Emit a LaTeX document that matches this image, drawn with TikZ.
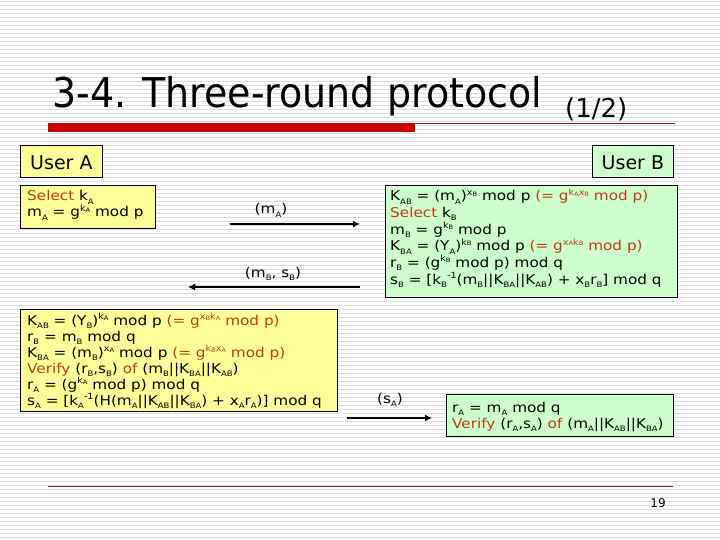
\documentclass[tikz,border=0pt]{standalone}
\usepackage{fontspec}
\usepackage{graphicx}
\setmainfont{DejaVu Sans}
\usetikzlibrary{arrows.meta}
\definecolor{yfill}{HTML}{FFFF99}
\definecolor{gfill}{HTML}{CCFFCC}
\definecolor{rtxt}{HTML}{C03A10}
\definecolor{stripe}{HTML}{DCDCDC}
\definecolor{barred}{HTML}{CC0000}
\definecolor{thinred}{HTML}{7A2030}
\newcommand\sbs[1]{\raisebox{-0.45ex}{\fontsize{7.5}{7.5}\selectfont #1}}
\newcommand\sps[1]{\raisebox{0.75ex}{\fontsize{8.5}{8.5}\selectfont #1}}
\newcommand\ssb[1]{\raisebox{-0.15ex}{\fontsize{6}{6}\selectfont #1}}
\newcommand\rd[1]{\textcolor{rtxt}{#1}}
\newcommand\tline[1]{\scalebox{1.13}[1]{#1}}
\tikzset{
  ybox/.style={draw=black, line width=0.8pt, fill=yfill, inner sep=0pt, anchor=north west},
  gbox/.style={draw=black, line width=0.8pt, fill=gfill, inner sep=0pt, anchor=north west},
  txt/.style={anchor=base west, inner sep=0pt, font=\fontsize{13.5}{13.5}\selectfont},
  lbl/.style={anchor=base, inner sep=0pt, font=\fontsize{13.5}{13.5}\selectfont},
  msg/.style={line width=2.4pt, -{Latex[length=7pt,width=7pt]}},
}
\begin{document}
\begin{tikzpicture}[x=1pt,y=-1pt]
\useasboundingbox (0,0) rectangle (720,540);
\fill[white] (0,0) rectangle (720,540);
\foreach \i in {0,...,134} \draw[stripe, line width=1.3pt] (0,\i*4+1.5) -- (720,\i*4+1.5);
% title
\node[anchor=base west, inner sep=0pt] (title) at (52,108)
  {\scalebox{0.926}[1]{\fontsize{41}{41}\selectfont 3-4. Three-round protocol}};
\node[anchor=base west, inner sep=0pt] (part) at (565,118)
  {\fontsize{26}{26}\selectfont (1/2)};
\fill[barred] (48,123) rectangle (415,132);
\draw[thinred, line width=1pt] (415,123.5) -- (675,123.5);
% users
\node[ybox, minimum width=82, minimum height=32] (ua) at (20,145) {};
\node[font=\fontsize{19}{19}\selectfont, inner sep=0pt] (uat) at ([yshift=-1pt]ua.center) {User A};
\node[gbox, minimum width=81, minimum height=32] (ub) at (592,145) {};
\node[font=\fontsize{19}{19}\selectfont, inner sep=0pt] (ubt) at ([yshift=-1pt]ub.center) {User B};
% box A1
\node[ybox, minimum width=135, minimum height=43] (a1) at (20,185) {};
\node[txt] (a1l1) at (27,201) {\tline{\rd{Select} k\sbs{A}}};
\node[txt] (a1l2) at (27,217) {\tline{m\sbs{A} = g\sps{k\ssb{A}} mod p}};
% box B1
\node[gbox, minimum width=292, minimum height=112] (b1) at (385,185) {};
\node[txt] (b1l1) at (390,201) {\tline{K\sbs{AB} = (m\sbs{A})\sps{x\ssb{B}} mod p \rd{(= g\sps{k\ssb{A}x\ssb{B}} mod p)}}};
\node[txt] (b1l2) at (390,217.6) {\tline{\rd{Select} k\sbs{B}}};
\node[txt] (b1l3) at (390,234.2) {\tline{m\sbs{B} = g\sps{k\ssb{B}} mod p}};
\node[txt] (b1l4) at (390,250.8) {\tline{K\sbs{BA} = (Y\sbs{A})\sps{k\ssb{B}} mod p \rd{(= g\sps{x\ssb{A}k\ssb{B}} mod p)}}};
\node[txt] (b1l5) at (390,267.4) {\tline{r\sbs{B} = (g\sps{k\ssb{B}} mod p) mod q}};
\node[txt] (b1l6) at (390,284) {\tline{s\sbs{B} = [k\sbs{B}\sps{-1}(m\sbs{B}||K\sbs{BA}||K\sbs{AB}) + x\sbs{B}r\sbs{B}] mod q}};
% box A2
\node[ybox, minimum width=317, minimum height=102] (a2) at (20,309) {};
\node[txt] (a2l1) at (27,325) {\tline{K\sbs{AB} = (Y\sbs{B})\sps{k\ssb{A}} mod p \rd{(= g\sps{x\ssb{B}k\ssb{A}} mod p)}}};
\node[txt] (a2l2) at (27,341) {\tline{r\sbs{B} = m\sbs{B} mod q}};
\node[txt] (a2l3) at (27,357) {\tline{K\sbs{BA} = (m\sbs{B})\sps{x\ssb{A}} mod p \rd{(= g\sps{k\ssb{B}x\ssb{A}} mod p)}}};
\node[txt] (a2l4) at (27,373) {\tline{\rd{Verify} (r\sbs{B},s\sbs{B}) \rd{of} (m\sbs{B}||K\sbs{BA}||K\sbs{AB})}};
\node[txt] (a2l5) at (27,389) {\tline{r\sbs{A} = (g\sps{k\ssb{A}} mod p) mod q}};
\node[txt] (a2l6) at (27,405) {\tline{s\sbs{A} = [k\sbs{A}\sps{-1}(H(m\sbs{A}||K\sbs{AB}||K\sbs{BA}) + x\sbs{A}r\sbs{A})] mod q}};
% box B2
\node[gbox, minimum width=227, minimum height=42] (b2) at (446,394) {};
\node[txt] (b2l1) at (452,412) {\tline{r\sbs{A} = m\sbs{A} mod q}};
\node[txt] (b2l2) at (452,428) {\tline{\rd{Verify} (r\sbs{A},s\sbs{A}) \rd{of} (m\sbs{A}||K\sbs{AB}||K\sbs{BA})}};
% messages
\coordinate (m1s) at (230,224); \coordinate (m1e) at (360,224);
\draw[msg] (m1s) -- (m1e);
\node[lbl] (m1l) at (271,214) {\tline{(m\sbs{A})}};
\coordinate (m2s) at (360,287); \coordinate (m2e) at (188,287);
\draw[msg] (m2s) -- (m2e);
\node[lbl] (m2l) at (273,277) {\tline{(m\sbs{B}, s\sbs{B})}};
\coordinate (m3s) at (347,418); \coordinate (m3e) at (432,418);
\draw[msg] (m3s) -- (m3e);
\node[lbl] (m3l) at (390,403) {\tline{(s\sbs{A})}};
% footer
\draw[thinred, line width=0.8pt] (48,486) -- (673,486);
\node[anchor=base, inner sep=0pt, font=\fontsize{12}{12}\selectfont] (pg) at (658,507) {19};
\end{tikzpicture}
\end{document}
